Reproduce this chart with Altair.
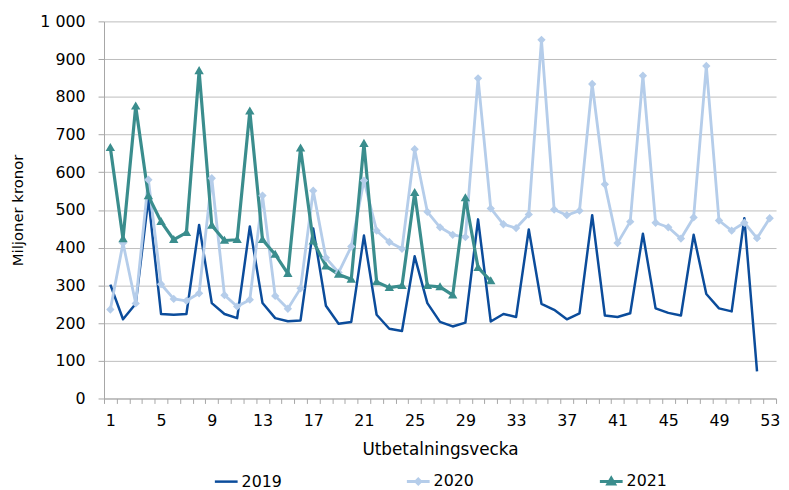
import altair as alt
import pandas as pd

# ---------------- data ----------------
years = ["2019", "2020", "2021"]
colors = ["#0B4C9B", "#B5CDEA", "#3A8D8D"]

v2019 = [302, 210, 251, 530, 224, 222, 224, 460, 253, 224, 213, 456, 253, 213,
         205, 207, 451, 246, 198, 203, 432, 222, 185, 179, 377, 253, 203, 191,
         201, 475, 204, 224, 216, 448, 251, 235, 210, 226, 486, 220, 216, 226,
         437, 239, 227, 220, 434, 277, 239, 231, 478, 72]
v2020 = [236, 412, 252, 580, 303, 264, 259, 279, 584, 274, 244, 262, 538, 272,
         238, 292, 551, 373, 334, 403, 578, 445, 415, 397, 661, 495, 454, 434,
         428, 849, 504, 462, 452, 488, 951, 501, 486, 498, 834, 568, 412, 469,
         856, 466, 454, 424, 480, 882, 472, 445, 466, 425, 478]
v2021 = [665, 423, 775, 537, 469, 421, 440, 869, 459, 419, 421, 762, 421, 382,
         331, 664, 417, 351, 329, 316, 676, 309, 294, 299, 546, 299, 296, 274,
         532, 347, 312]

weeks = list(range(1, 54))
x_label_weeks = [1, 5, 9, 13, 17, 21, 25, 29, 33, 37, 41, 45, 49, 53]
y_ticks = [0, 100, 200, 300, 400, 500, 600, 700, 800, 900, 1000]

rows = []
for yr, vals in zip(years, [v2019, v2020, v2021]):
    for i, v in enumerate(vals, start=1):
        rows.append({"vecka": i, "belopp": v, "ar": yr})
df = pd.DataFrame(rows)

# ---------------- style ----------------
FONT = "DejaVu Sans"
W, H = 679, 381
AXIS_GRAY = "#A6A6A6"
GRID_GRAY = "#BDBDBD"

line_path = "M-1,0H1"
diamond_path = "M-1,0H1M-0.22,0L0,-0.22L0.22,0L0,0.22Z"
tri_path = "M-1,0H1M-0.28,0.2L0,-0.28L0.28,0.2Z"

x_scale = alt.Scale(type="band", domain=weeks, paddingInner=0, paddingOuter=0)
y_scale = alt.Scale(domain=[0, 1000], nice=False, zero=True)
color_scale = alt.Scale(domain=years, range=colors)
shape_scale = alt.Scale(domain=years, range=[line_path, diamond_path, tri_path])

label_list = ",".join(str(w) for w in x_label_weeks)
x_axis = alt.Axis(
    tickBand="extent",
    labelExpr=f"indexof([{label_list}], datum.value) >= 0 ? datum.label : ''",
    labelFlush=False,
    labelOverlap=False,
    labelAngle=0,
    labelFont=FONT, labelFontSize=16, labelColor="#000000",
    labelBaseline="alphabetic", labelPadding=22,
    tickSize=5, tickColor=AXIS_GRAY, tickWidth=1,
    domainColor=AXIS_GRAY, domainWidth=1,
    grid=False,
    titleFont=FONT, titleFontSize=17, titleFontWeight="normal", titleColor="#000000",
    titleBaseline="alphabetic", titleY=56.5, titleX=W / 2, titleAlign="center",
)
y_axis = alt.Axis(
    values=y_ticks,
    labelExpr="replace(format(datum.value, ','), ',', ' ')",
    labelFont=FONT, labelFontSize=16, labelColor="#000000", labelPadding=13,
    tickSize=6, tickColor=AXIS_GRAY, tickWidth=1,
    domainColor=AXIS_GRAY, domainWidth=1,
    grid=True, gridColor=GRID_GRAY, gridWidth=1,
    titleFont=FONT, titleFontSize=15, titleFontWeight="normal", titleColor="#000000",
    titleBaseline="alphabetic", titleAlign="center", titleAngle=270,
    titleX=-82, titleY=H / 2,
)

legend = alt.Legend(
    title=None, orient="none", legendX=110, legendY=451,
    direction="horizontal", columns=3, padding=0,
    symbolSize=529, symbolStrokeWidth=2.5,
    labelFont=FONT, labelFontSize=16, labelColor="#000000", labelOffset=2,
    columnPadding=120, labelLimit=0,
)

base = alt.Chart(df).encode(
    x=alt.X("vecka:O", scale=x_scale, axis=x_axis, title="Utbetalningsvecka", bandPosition=0.5),
    y=alt.Y("belopp:Q", scale=y_scale, axis=y_axis, title="Miljoner kronor"),
)

lines = base.mark_line(strokeJoin="round").encode(
    color=alt.Color("ar:N", scale=color_scale, legend=legend),
    strokeWidth=alt.StrokeWidth("ar:O", scale=alt.Scale(domain=years, range=[2.5, 3.2, 2.5]), legend=None),
)

points = base.transform_filter("datum.ar != '2019'").mark_point(filled=True, opacity=1).encode(
    color=alt.Color("ar:N", scale=color_scale, legend=legend),
    shape=alt.Shape("ar:N", scale=shape_scale, legend=legend),
    size=alt.Size("ar:O", scale=alt.Scale(domain=["2020", "2021"], range=[1450, 1150]), legend=None),
)

chart = alt.layer(lines, points).properties(
    width=W, height=H,
    autosize=alt.AutoSizeParams(type="none"),
    padding={"left": 97, "top": 11, "right": 5, "bottom": 96},
    background="white",
).configure_view(stroke=None)

chart.save("out.html", embed_options={"renderer": "svg", "actions": False})
